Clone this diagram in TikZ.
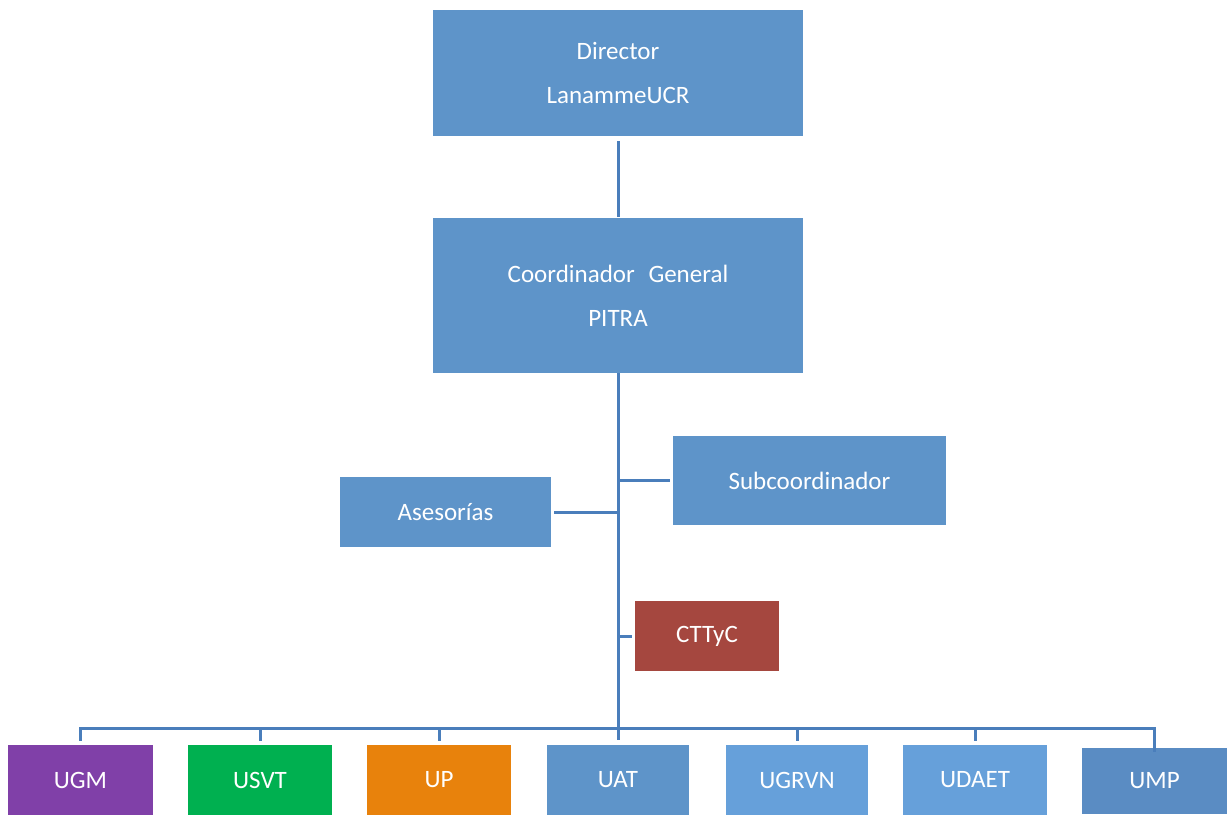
\documentclass[tikz,border=0pt]{standalone}
\usepackage{fontspec}
\setmainfont{Carlito}
\definecolor{boxblue}{HTML}{5E94C9}
\definecolor{lightblue}{HTML}{66A0DA}
\definecolor{darkblue}{HTML}{5A8CC3}
\definecolor{linecol}{HTML}{4A7EBB}
\definecolor{purp}{HTML}{8040A8}
\definecolor{grn}{HTML}{00B050}
\definecolor{orng}{HTML}{E8820C}
\definecolor{redbox}{HTML}{A5473F}
\begin{document}
\begin{tikzpicture}[x=1pt,y=-1pt,
  orgbox/.style={fill=boxblue, draw=none, text=white, inner sep=0pt, align=center,
    font=\fontsize{25}{44}\selectfont},
  conn/.style={draw=linecol, line width=3pt}]
\clip (0,0) rectangle (1228,814);
\fill[white] (0,0) rectangle (1228,814);
% top boxes
\node[orgbox, minimum width=370pt, minimum height=126pt] (dir) at (618,73) {Director\\LanammeUCR};
\node[orgbox, minimum width=370pt, minimum height=155pt] (coord) at (618,295.5) {Coordinador\hspace{0.55em}General\\PITRA};
\node[orgbox, minimum width=273pt, minimum height=89pt] (sub) at (809.5,480.5) {Subcoordinador};
\node[orgbox, minimum width=211pt, minimum height=70pt] (ase) at (445.5,512) {Asesorías};
\node[orgbox, fill=redbox, minimum width=144pt, minimum height=70pt] (ctt) at (707,636) {CTTyC};
% bottom boxes
\node[orgbox, fill=purp, minimum width=145pt, minimum height=70pt] (ugm) at (80.5,780) {UGM};
\node[orgbox, fill=grn, minimum width=144pt, minimum height=70pt] (usvt) at (260,780) {USVT};
\node[orgbox, fill=orng, minimum width=144pt, minimum height=70pt] (up) at (439,780) {UP};
\node[orgbox, minimum width=142pt, minimum height=70pt] (uat) at (618,780) {UAT};
\node[orgbox, fill=lightblue, minimum width=142pt, minimum height=70pt] (ugrvn) at (797,780) {UGRVN};
\node[orgbox, fill=lightblue, minimum width=144pt, minimum height=70pt] (udaet) at (975,780) {UDAET};
\node[orgbox, fill=darkblue, minimum width=145pt, minimum height=66pt] (ump) at (1154.5,781) {UMP};
\coordinate (bus) at (618,728);
% connectors
\draw[conn, shorten <=5pt, shorten >=1pt] (dir.south) -- (coord.north);
\draw[conn, shorten >=5pt] (coord.south) -- (uat.north);
\draw[conn, shorten >=3pt] (coord.south |- sub.west) -- (sub.west);
\draw[conn, shorten <=3pt] (ase.east) -- (coord.south |- ase.east);
\draw[conn, shorten >=3pt] (coord.south |- ctt.west) -- (ctt.west);
\draw[conn] (ugm.north) ++(0,-4) -- (ugm.north |- bus) -- (ump.north |- bus) -- ([yshift=-4pt]ump.north);
\foreach \n in {usvt,up,ugrvn,udaet}
  \draw[conn, shorten <=4pt] (\n.north) -- (\n.north |- bus);
\end{tikzpicture}
\end{document}
